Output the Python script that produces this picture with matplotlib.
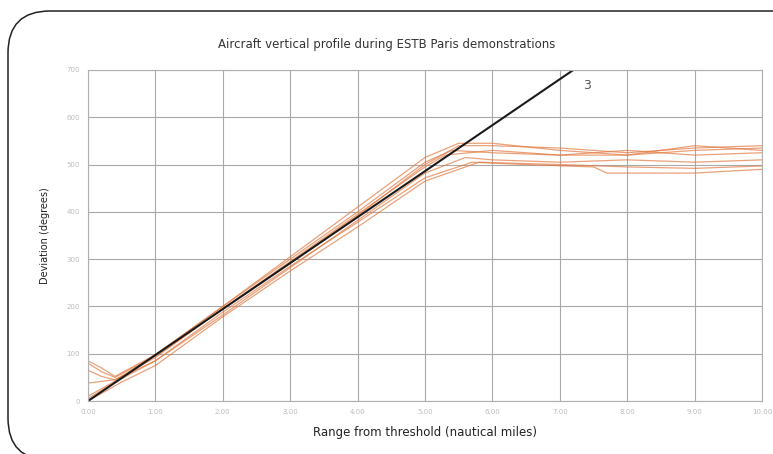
import numpy as np
import matplotlib
matplotlib.use("Agg")
import matplotlib.pyplot as plt
from matplotlib.patches import FancyBboxPatch
from matplotlib.transforms import IdentityTransform

# vertical profile traces: (range nm, deviation)
t1_x = [0.0, 0.2, 0.4, 1.0, 2.0, 3.0, 4.0, 5.0, 5.5, 6.0, 7.0, 8.0, 9.0, 10.0]
t1_y = [80, 62, 50, 95, 195, 292, 392, 500, 540, 540, 535, 525, 535, 540]
t2_x = [0.0, 0.2, 0.4, 1.0, 2.0, 3.0, 4.0, 5.0, 5.3, 6.0, 7.0, 8.0, 9.0, 10.0]
t2_y = [65, 52, 45, 92, 195, 295, 395, 495, 520, 530, 520, 530, 520, 525]
t3_x = [0.0, 0.4, 1.0, 2.0, 3.0, 4.0, 5.0, 5.6, 6.0, 7.0, 8.0, 9.0, 10.0]
t3_y = [38, 45, 85, 182, 282, 382, 482, 515, 510, 505, 510, 505, 510]
t4_x = [0.0, 0.4, 1.0, 2.0, 3.0, 4.0, 5.0, 5.7, 6.5, 7.5, 7.7, 9.0, 10.0]
t4_y = [5, 40, 85, 188, 285, 378, 472, 505, 500, 495, 482, 482, 490]
t5_x = [0.0, 0.5, 1.0, 2.0, 3.0, 4.0, 5.0, 5.8, 7.0, 8.0, 9.0, 10.0]
t5_y = [0, 40, 75, 178, 275, 368, 465, 505, 500, 495, 492, 497]
t6_x = [0.0, 0.2, 0.4, 1.0, 2.0, 3.0, 4.0, 5.0, 5.4, 6.0, 7.0, 8.0, 9.0, 10.0]
t6_y = [85, 70, 52, 98, 200, 300, 400, 505, 530, 525, 520, 520, 530, 535]
t7_x = [0.0, 0.4, 1.0, 2.0, 3.0, 4.0, 5.0, 5.5, 6.0, 7.0, 8.0, 9.0, 10.0]
t7_y = [10, 42, 98, 200, 305, 410, 515, 545, 545, 530, 520, 540, 530]
traces = [(t1_x, t1_y), (t2_x, t2_y), (t3_x, t3_y), (t4_x, t4_y),
          (t5_x, t5_y), (t6_x, t6_y), (t7_x, t7_y)]

# nominal glide path
glide_x = [0.0, 7.2]
glide_y = [0, 700]

x_ticks = [0, 1, 2, 3, 4, 5, 6, 7, 8, 9, 10]
y_ticks = [0, 100, 200, 300, 400, 500, 600, 700]

fig = plt.figure(figsize=(7.73, 4.54), dpi=100)

# rounded frame in pixels (left/top visible, right and bottom cut off)
frame = FancyBboxPatch((8, -6), 900, 449,
                       boxstyle="round,pad=0,rounding_size=42",
                       transform=IdentityTransform(), fill=False,
                       ec="#222222", lw=1.1)
fig.patches.append(frame)

ax = fig.add_axes([88 / 773, 53 / 454, 674 / 773, 331 / 454])
for xs, ys in traces:
    ax.plot(xs, ys, color="#e27a42", lw=0.9, alpha=0.7)
ax.plot(glide_x, glide_y, color="#1a1a1a", lw=1.5)
ax.text(7.35, 660, "3", fontsize=9, color="#555555")

ax.set_xlim(0, 10)
ax.set_ylim(0, 700)
ax.set_xticks(x_ticks)
ax.set_xticklabels([f"{v:.2f}" for v in x_ticks])
ax.set_yticks(y_ticks)
ax.tick_params(labelsize=5, colors="#bbbbbb", length=0, pad=6)
ax.grid(True, color="#a8a8a8", lw=0.8)
for s in ax.spines.values():
    s.set_color("#b0b0b0")
ax.set_axisbelow(True)

ax.set_xlabel("Range from threshold (nautical miles)", fontsize=8.5,
              color="#222222", labelpad=8)
ax.set_ylabel("Deviation (degrees)", fontsize=7, color="#222222", labelpad=12)
fig.text(0.5, 0.895, "Aircraft vertical profile during ESTB Paris demonstrations",
         ha="center", fontsize=8.5, color="#333333")

fig.savefig("out.png", dpi=100)
